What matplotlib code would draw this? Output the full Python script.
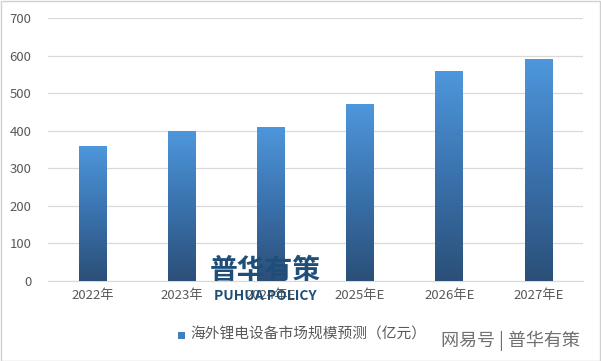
import matplotlib
matplotlib.use("Agg")
import matplotlib.pyplot as plt
import numpy as np
from matplotlib.patches import Rectangle
from matplotlib.colors import LinearSegmentedColormap

plt.rcParams['font.family'] = ['Noto Sans CJK SC', 'DejaVu Sans']

categories = ["2022年", "2023年", "2024年E", "2025年E", "2026年E", "2027年E"]
values = [360, 400, 410, 470, 560, 590]
yticks = [0, 100, 200, 300, 400, 500, 600, 700]
legend_label = "海外锂电设备市场规模预测（亿元）"

fig = plt.figure(figsize=(6.01, 3.61), dpi=100)
ax = fig.add_axes([0.0799, 0.2216, 0.8902, 0.7284])

x = np.arange(len(categories))
bars = ax.bar(x, values, width=0.31, color='#3f7fbf', zorder=2)

grad = np.linspace(0, 1, 256).reshape(-1, 1)
cmap = LinearSegmentedColormap.from_list('g', ['#2b4f78', '#3a72ad', '#4e97dc'])
for b in bars:
    x0, w, h = b.get_x(), b.get_width(), b.get_height()
    im = ax.imshow(grad, cmap=cmap, extent=[x0, x0 + w, 0, h], origin='lower',
                   aspect='auto', zorder=3)
    im.set_clip_path(b)

ax.set_xlim(-0.5, len(categories) - 0.5)
ax.set_ylim(0, 700)
ax.set_yticks(yticks)
ax.set_xticks(x)
ax.set_xticklabels(categories)
ax.grid(axis='y', color='#d9d9d9', linewidth=0.9, zorder=0)
for s in ['top', 'right', 'left']:
    ax.spines[s].set_visible(False)
ax.spines['bottom'].set_color('#d9d9d9')
ax.tick_params(axis='both', length=0, colors='#595959', labelsize=9.5)
ax.tick_params(axis='y', pad=12)
ax.tick_params(axis='x', pad=6)

# legend
fig.patches.append(Rectangle((178/601, 1 - 339/361), 7/601, 7/361, transform=fig.transFigure,
                             facecolor='#3f7fbf', edgecolor='none'))
fig.text(190/601, 1 - 335/361, legend_label, fontsize=10.6, color='#595959', va='center', ha='left')

# watermarks
fig.text(265/601, 1 - 271/361, "普华有策", fontsize=20, color='#1f4e79', fontweight='bold',
         ha='center', va='center', zorder=10)
fig.text(265/601, 1 - 296/361, "PUHUA POLICY", fontsize=10, color='#1f4e79', fontweight='bold',
         ha='center', va='center', zorder=10)
fig.text(510/601, 1 - 341/361, "网易号 | 普华有策", fontsize=13, color='#707070',
         ha='center', va='center', zorder=10)

# outer border
fig.patches.append(Rectangle((0.001, 0.001), 0.997, 0.997, transform=fig.transFigure,
                             facecolor='none', edgecolor='#d0d0d0', linewidth=1))

fig.savefig("out.png", dpi=100)
